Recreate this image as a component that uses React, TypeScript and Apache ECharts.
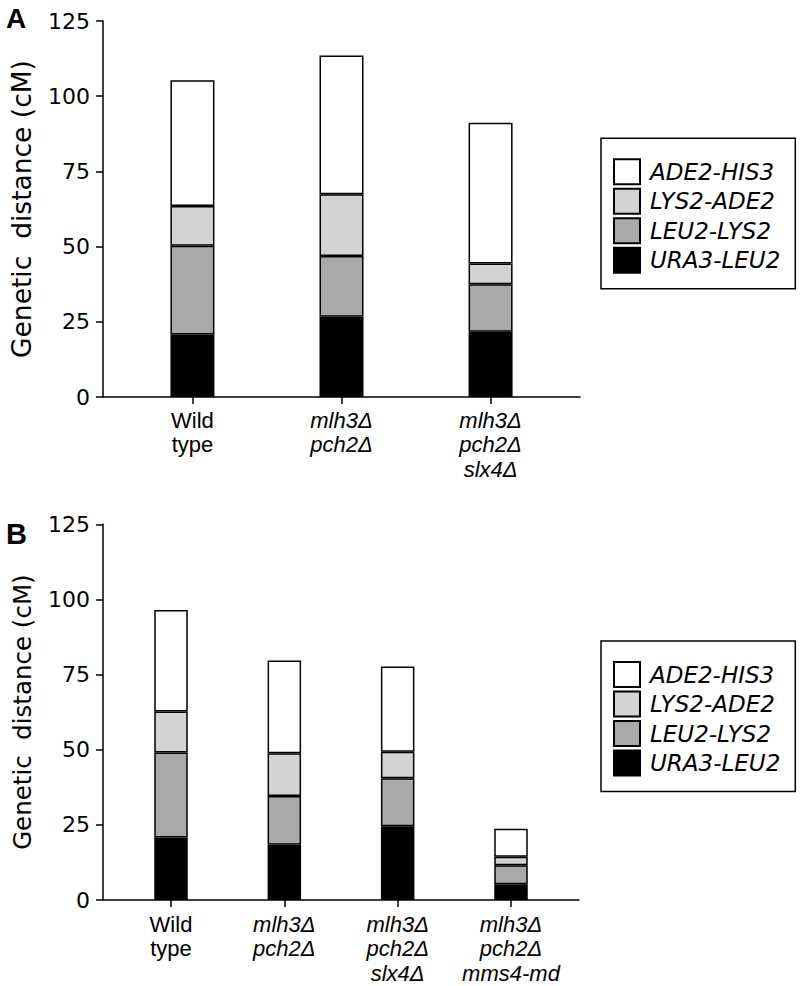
import React, { useEffect, useRef } from "react";
import * as echarts from "echarts";

const seriesNames = ["URA3-LEU2", "LEU2-LYS2", "LYS2-ADE2", "ADE2-HIS3"];
const legendOrder = ["ADE2-HIS3", "LYS2-ADE2", "LEU2-LYS2", "URA3-LEU2"];
const seriesColors = ["#000000", "#a9a9a9", "#d3d3d3", "#ffffff"];

const categoriesA = ["Wild\ntype", "mlh3Δ\npch2Δ", "mlh3Δ\npch2Δ\nslx4Δ"];
const italicA = [false, true, true];
const uraA = [20.8, 26.7, 21.7];
const leuA = [29.5, 20.2, 15.8];
const lysA = [13.2, 20.5, 6.9];
const adeA = [41.8, 46.1, 46.8];

const categoriesB = ["Wild\ntype", "mlh3Δ\npch2Δ", "mlh3Δ\npch2Δ\nslx4Δ", "mlh3Δ\npch2Δ\nmms4-md"];
const italicB = [false, true, true, true];
const uraB = [20.8, 18.4, 24.5, 5.2];
const leuB = [28.3, 16.2, 16.0, 6.4];
const lysB = [13.6, 14.2, 8.8, 2.8];
const adeB = [33.8, 30.9, 28.4, 9.3];

const yTicks = [0, 25, 50, 75, 100, 125];

const AXIS_FONT = "DejaVu Sans";
const LABEL_FONT = "Liberation Sans";

// frame extents (axis line) per panel
const panelA = { left: 103, top: 21, width: 477, height: 376 };
const panelB = { left: 103, top: 524.3, width: 476, height: 375.7 };

function barGrid(p: { left: number; top: number; width: number; height: number }, n: number) {
  // first/last category centre sits 0.6 band inside the axis line ends
  const band = p.width / (n + 0.2);
  return { left: p.left + 0.1 * band, top: p.top, width: band * n, height: p.height };
}

function labelFormatter(cats: string[], ital: boolean[]) {
  return (_v: string, i: number) => {
    const c = cats[i];
    if (c === undefined) return "";
    const tag = ital[i] ? "i" : "n";
    return c
      .split("\n")
      .map((l) => `{${tag}|${l}}`)
      .join("\n");
  };
}

const richLabel = {
  n: { fontFamily: LABEL_FONT, fontSize: 22, lineHeight: 24.5, color: "#000" },
  i: { fontFamily: LABEL_FONT, fontSize: 22, lineHeight: 24.5, color: "#000", fontStyle: "italic" },
};

function barXAxis(gridIndex: number, cats: string[], ital: boolean[], margin: number) {
  return {
    type: "category",
    gridIndex,
    data: cats,
    axisLine: { show: false, onZero: false },
    axisTick: { show: true, alignWithLabel: true, length: 7, lineStyle: { color: "#000", width: 1.5 } },
    axisLabel: {
      show: true,
      interval: 0,
      margin,
      formatter: labelFormatter(cats, ital),
      rich: richLabel,
      color: "#000",
    },
    splitLine: { show: false },
  };
}

function barYAxis(gridIndex: number) {
  return {
    type: "value",
    gridIndex,
    min: yTicks[0],
    max: yTicks[yTicks.length - 1],
    interval: 25,
    show: false,
    splitLine: { show: false },
  };
}

function frameXAxis(gridIndex: number) {
  return {
    type: "value",
    gridIndex,
    min: 0,
    max: 1,
    axisLine: { show: true, onZero: false, lineStyle: { color: "#000", width: 1.5 } },
    axisTick: { show: false },
    axisLabel: { show: false },
    splitLine: { show: false },
  };
}

function frameYAxis(gridIndex: number, nameSize: number) {
  return {
    type: "value",
    gridIndex,
    min: yTicks[0],
    max: yTicks[yTicks.length - 1],
    interval: 25,
    name: "Genetic  distance (cM)",
    nameLocation: "middle",
    nameGap: 68,
    nameTextStyle: { fontFamily: AXIS_FONT, fontSize: nameSize, color: "#000" },
    splitLine: { show: false },
    axisLine: { show: true, onZero: false, lineStyle: { color: "#000", width: 1.5 } },
    axisTick: { show: true, length: 7, lineStyle: { color: "#000", width: 1.5 } },
    axisLabel: { fontFamily: AXIS_FONT, fontSize: 22, color: "#000", margin: 13 },
  };
}

function seriesFor(axisIndex: number, stack: string, arrays: number[][], barWidth: number) {
  return arrays.map((arr, k) => ({
    type: "bar",
    name: seriesNames[k],
    xAxisIndex: axisIndex,
    yAxisIndex: axisIndex,
    stack,
    barWidth,
    data: arr,
    itemStyle: { color: seriesColors[k], borderColor: "#000", borderWidth: 1.5 },
    emphasis: { disabled: true },
  }));
}

function legendFor(top: number) {
  return {
    orient: "vertical",
    left: 601,
    top,
    data: legendOrder,
    selectedMode: false,
    icon: "rect",
    itemWidth: 26,
    itemHeight: 25,
    itemGap: 2.5,
    padding: [20, 15, 15, 12],
    borderColor: "#000",
    borderWidth: 1.5,
    borderRadius: 0,
    textStyle: {
      fontFamily: AXIS_FONT,
      fontStyle: "italic",
      fontSize: 23,
      lineHeight: 25,
      color: "#000",
      padding: [0, 0, 0, 5],
    },
  };
}

export default function App() {
  const ref = useRef<HTMLDivElement>(null);
  useEffect(() => {
    document.body.style.margin = "0";
    if (!ref.current) return;
    const chart = echarts.init(ref.current, null, { renderer: "svg" });
    chart.setOption({
      animation: false,
      backgroundColor: "#fff",
      grid: [
        barGrid(panelA, categoriesA.length),
        barGrid(panelB, categoriesB.length),
        panelA,
        panelB,
      ],
      xAxis: [
        barXAxis(0, categoriesA, italicA, 11),
        barXAxis(1, categoriesB, italicB, 12),
        frameXAxis(2),
        frameXAxis(3),
      ],
      yAxis: [barYAxis(0), barYAxis(1), frameYAxis(2, 26.5), frameYAxis(3, 24.5)],
      legend: [legendFor(138.3), legendFor(641)],
      series: [
        ...seriesFor(0, "A", [uraA, leuA, lysA, adeA], 44),
        ...seriesFor(1, "B", [uraB, leuB, lysB, adeB], 33.5),
      ],
      graphic: [
        {
          type: "text",
          left: 6,
          top: 4,
          style: { text: "A", fontFamily: LABEL_FONT, fontWeight: "bold", fontSize: 28, fill: "#000" },
        },
        {
          type: "text",
          left: 6,
          top: 519,
          style: { text: "B", fontFamily: LABEL_FONT, fontWeight: "bold", fontSize: 29, fill: "#000" },
        },
      ],
    });
    return () => chart.dispose();
  }, []);
  return <div ref={ref} style={{ width: 800, height: 986 }} />;
}
